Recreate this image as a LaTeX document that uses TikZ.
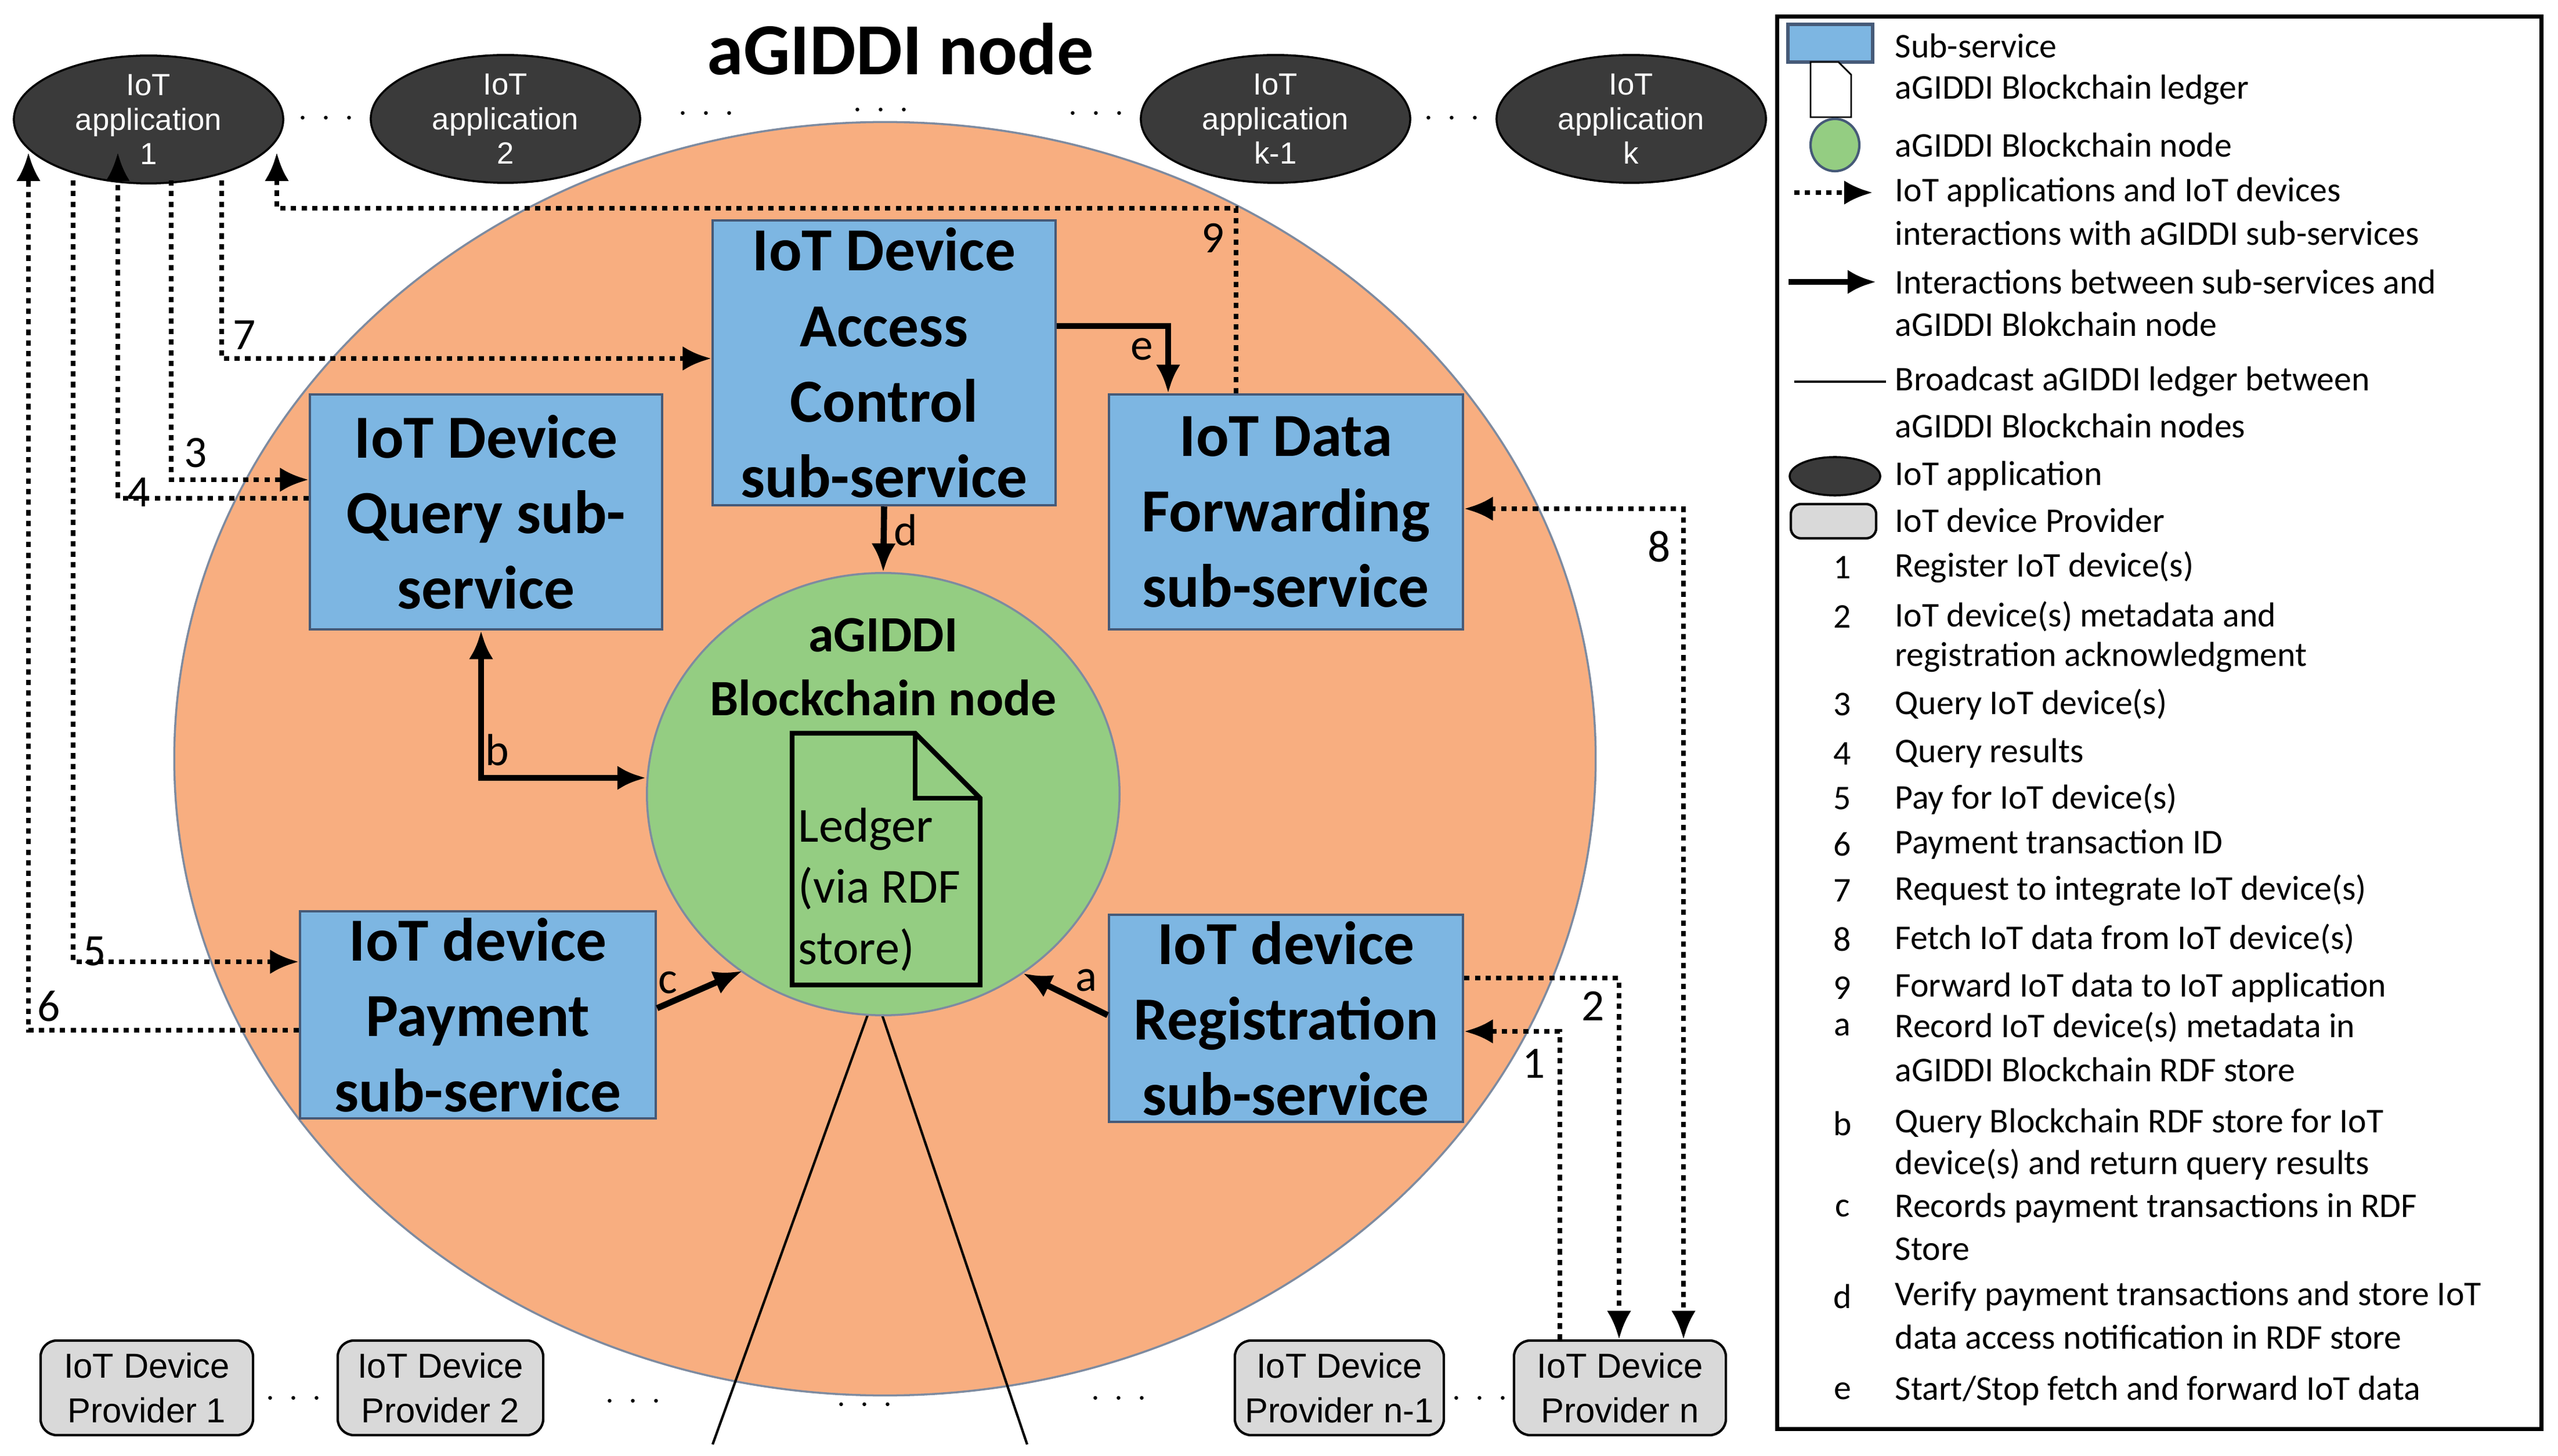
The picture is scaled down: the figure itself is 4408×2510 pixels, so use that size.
\documentclass[tikz,border=0pt]{standalone}
\usepackage{fontspec}
\setmainfont{Carlito}
\newfontfamily\lib{Liberation Sans}
\usetikzlibrary{arrows.meta,shapes.geometric}
\definecolor{orng}{RGB}{248,174,128}
\definecolor{bluf}{RGB}{125,182,226}
\definecolor{grnf}{RGB}{148,205,130}
\definecolor{appf}{RGB}{58,58,58}
\definecolor{provf}{RGB}{217,217,217}
\definecolor{edge}{RGB}{70,90,120}
\tikzset{
  sub/.style={draw=edge,line width=1.2pt,fill=bluf,align=center,font=\fontsize{30}{37}\selectfont\bfseries,inner sep=0pt},
  app/.style={ellipse,fill=appf,draw=black,line width=1pt,minimum width=4.64cm,minimum height=2cm,inner sep=0pt,align=center,text=white,font=\lib\fontsize{15}{17}\selectfont},
  prov/.style={draw=black,line width=1.2pt,rounded corners=8pt,fill=provf,align=center,font=\lib\fontsize{17}{22}\selectfont,inner sep=0pt},
  dotarr/.style={line width=2.4pt,dash pattern=on 2.6pt off 2.6pt,-{Latex[length=14pt,width=12pt]}},
  solarr/.style={line width=3pt,-{Latex[length=14pt,width=12pt]}},
  lab/.style={font=\fontsize{22}{22}\selectfont,inner sep=0pt},
  leg/.style={anchor=west,font=\fontsize{17}{20}\selectfont,inner sep=0pt},
  dots/.style={font=\lib\fontsize{16}{16}\selectfont\bfseries,inner sep=0pt}
}
\begin{document}
\begin{tikzpicture}[x=0.01cm,y=-0.01cm]
\useasboundingbox (0,0) rectangle (4408,2510);
% big ellipse
\node[ellipse,fill=orng,draw=edge!70,line width=1pt,minimum width=24.48cm,minimum height=21.94cm,inner sep=0pt] (big) at (1525,1308) {};
\node[font=\fontsize{36}{40}\selectfont\bfseries] (title) at (1552,85) {aGIDDI node};
% broadcast lines
\coordinate (bsrc) at (1508,1714);
\coordinate (bl) at (1228,2490);
\coordinate (br) at (1770,2490);
\draw[line width=1.2pt] (bsrc) -- (bl) (bsrc) -- (br);
% circle
\node[ellipse,fill=grnf,draw=edge!70,line width=1pt,minimum width=8.14cm,minimum height=7.62cm,inner sep=0pt] (bc) at (1522,1369) {};
\node[align=center,font=\fontsize{25}{31}\selectfont\bfseries] (bct) at (1522,1150) {aGIDDI\\Blockchain node};
% ledger
\draw[line width=2.4pt,fill=grnf] (1365,1264) -- (1577,1264) -- (1689,1376) -- (1689,1698) -- (1365,1698) -- cycle;
\draw[line width=2.4pt] (1577,1264) -- (1577,1376) -- (1689,1376);
\node[align=left,anchor=north west,font=\fontsize{24}{30}\selectfont,inner sep=0pt] (ledger) at (1375,1392) {Ledger\\(via RDF\\store)};
% boxes
\node[sub,minimum width=5.91cm,minimum height=4.91cm] (acc) at (1523.5,625.5) {IoT Device\\Access\\Control\\sub-service};
\node[sub,minimum width=6.07cm,minimum height=4.05cm] (qry) at (837.5,882.5) {IoT Device\\Query sub-\\service};
\node[sub,minimum width=6.10cm,minimum height=4.05cm] (fwd) at (2216,882.5) {IoT Data\\Forwarding\\sub-service};
\node[sub,minimum width=6.13cm,minimum height=3.57cm] (pay) at (823.5,1749.5) {IoT device\\Payment\\sub-service};
\node[sub,minimum width=6.10cm,minimum height=3.57cm] (reg) at (2216,1755.5) {IoT device\\Registration\\sub-service};
% apps
\node[app] (a1) at (256,206) {IoT\\application\\1};
\node[app] (a2) at (871,205) {IoT\\application\\2};
\node[app] (ak1) at (2198,205) {IoT\\application\\k-1};
\node[app] (ak) at (2811,205) {IoT\\application\\k};
\foreach \x/\y [count=\i] in {562/205,1217/197,1518/191,1889/197,2502/205}
  \node[dots] (td\i) at (\x,\y) {$\cdot\,\cdot\,\cdot$};
% providers
\node[prov,minimum width=3.66cm,minimum height=1.63cm] (p1) at (253,2392.5) {IoT Device\\Provider 1};
\node[prov,minimum width=3.54cm,minimum height=1.63cm] (p2) at (759,2392.5) {IoT Device\\Provider 2};
\node[prov,minimum width=3.60cm,minimum height=1.63cm] (pn1) at (2308,2392.5) {IoT Device\\Provider n-1};
\node[prov,minimum width=3.65cm,minimum height=1.63cm] (pn) at (2791.5,2392.5) {IoT Device\\Provider n};
\foreach \x/\y [count=\i] in {506/2412,1091/2417,1490/2423,1928/2412,2550/2412}
  \node[dots] (bd\i) at (\x,\y) {$\cdot\,\cdot\,\cdot$};
% solid arrows
\draw[solarr] (acc.south) -- (bc.north);
\node[lab,anchor=west] (ld) at (1540,914) {d};
\draw[solarr] (acc.east |- 0,562) -| (fwd.north -| 2013,0);
\node[lab] (le) at (1968,602) {e};
\draw[line width=3pt,{Latex[length=14pt,width=12pt]}-{Latex[length=14pt,width=12pt]}] (qry.south -| 829,0) |- (bc.west |- 0,1341);
\node[lab] (lb) at (857,1293) {b};
\coordinate (cT) at (1279,1674);
\draw[solarr] (pay.east |- 0,1738) -- (cT);
\node[lab] (lc) at (1151,1694) {c};
\coordinate (aT) at (1763,1678);
\draw[solarr] (reg.west |- 0,1750) -- (aT);
\node[lab] (la) at (1872,1690) {a};
% dotted app connections
\coordinate (u6) at (49,263);
\coordinate (s5) at (126,311);
\coordinate (u4) at (203,263);
\coordinate (s3) at (295,311);
\coordinate (s7) at (382,311);
\coordinate (u9) at (477,263);
\draw[dotarr] (s7) |- (acc.west |- 0,618);
\node[lab] (l7) at (421,578) {7};
\draw[dotarr] (fwd.north -| 2130,0) |- (477,359) -- (u9);
\node[lab] (l9) at (2090,410) {9};
\draw[dotarr] (s3) |- (qry.west |- 0,827);
\node[lab] (l3) at (337,781) {3};
\draw[dotarr] (qry.west |- 0,859) -| (u4);
\node[lab] (l4) at (239,849) {4};
\draw[dotarr] (s5) |- (pay.west |- 0,1658);
\node[lab] (l5) at (163,1640) {5};
\draw[dotarr] (pay.west |- 0,1776) -| (u6);
\node[lab] (l6) at (84,1735) {6};
% right side
\draw[line width=2.4pt,dash pattern=on 2.6pt off 2.6pt,{Latex[length=14pt,width=12pt]}-{Latex[length=14pt,width=12pt]}] (fwd.east |- 0,877) -| (pn.north -| 2901,0);
\node[lab] (l8) at (2859,942) {8};
\draw[dotarr] (reg.east |- 0,1686) -| (pn.north -| 2790,0);
\node[lab] (l2) at (2745,1734) {2};
\draw[dotarr] (pn.north -| 2688,0) |- (reg.east |- 0,1778);
\node[lab] (l1) at (2643,1834) {1};
% legend
\node[draw=black,line width=2pt,minimum width=13.16cm,minimum height=24.34cm,inner sep=0pt] (legbox) at (3721,1246) {};
\node[draw=edge,fill=bluf,line width=1.5pt,minimum width=1.46cm,minimum height=0.65cm,inner sep=0pt] (lgsub) at (3154,74.5) {};
\draw[line width=0.8pt,fill=white] (3120,107) -- (3168,107) -- (3190,129) -- (3190,202) -- (3120,202) -- cycle;
\node[ellipse,fill=grnf,draw=edge,line width=1.2pt,minimum width=0.84cm,minimum height=0.9cm,inner sep=0pt] (lgc) at (3162,250) {};
\coordinate (lg1a) at (3092,332); \coordinate (lg1b) at (3227,332);
\draw[dotarr] (lg1a) -- (lg1b);
\coordinate (lg2a) at (3082,486); \coordinate (lg2b) at (3233,486);
\draw[solarr] (lg2a) -- (lg2b);
\coordinate (lg3a) at (3092,658); \coordinate (lg3b) at (3250,658);
\draw[line width=1.2pt] (lg3a) -- (lg3b);
\node[ellipse,fill=appf,draw=black,line width=1pt,minimum width=1.56cm,minimum height=0.66cm,inner sep=0pt] (lgapp) at (3162,821) {};
\node[draw=black,fill=provf,rounded corners=5pt,line width=1.2pt,minimum width=1.47cm,minimum height=0.59cm,inner sep=0pt] (lgprov) at (3159.5,898.5) {};
\foreach \y/\t [count=\i] in {79/Sub-service,155/aGIDDI Blockchain ledger,250/aGIDDI Blockchain node,332/IoT applications and IoT devices,402/interactions with aGIDDI sub-services,486/Interactions between sub-services and,559/aGIDDI Blokchain node,658/Broadcast aGIDDI ledger between,734/aGIDDI Blockchain nodes,821/IoT application,897/IoT device Provider,978/Register IoT device(s),1063/IoT device(s) metadata and,1133/registration acknowledgment,1214/Query IoT device(s),1299/Query results,1377/Pay for IoT device(s),1456/Payment transaction ID,1535/Request to integrate IoT device(s),1619/Fetch IoT data from IoT device(s),1703/Forward IoT data to IoT application,1771/Record IoT device(s) metadata in,1844/aGIDDI Blockchain RDF store,1937/Query Blockchain RDF store for IoT,2007/device(s) and return query results,2083/Records payment transactions in RDF,2153/Store,2235/Verify payment transactions and store IoT,2305/data access notification in RDF store,2398/{Start/Stop fetch and forward IoT data}}
  \node[leg] (lt\i) at (3265,\y) {\t};
\foreach \y/\t [count=\i] in {978/1,1063/2,1214/3,1299/4,1377/5,1456/6,1535/7,1619/8,1703/9,1771/a,1937/b,2083/c,2235/d,2398/e}
  \node[font=\fontsize{17}{20}\selectfont,inner sep=0pt] (ln\i) at (3175,\y) {\t};
\end{tikzpicture}
\end{document}
